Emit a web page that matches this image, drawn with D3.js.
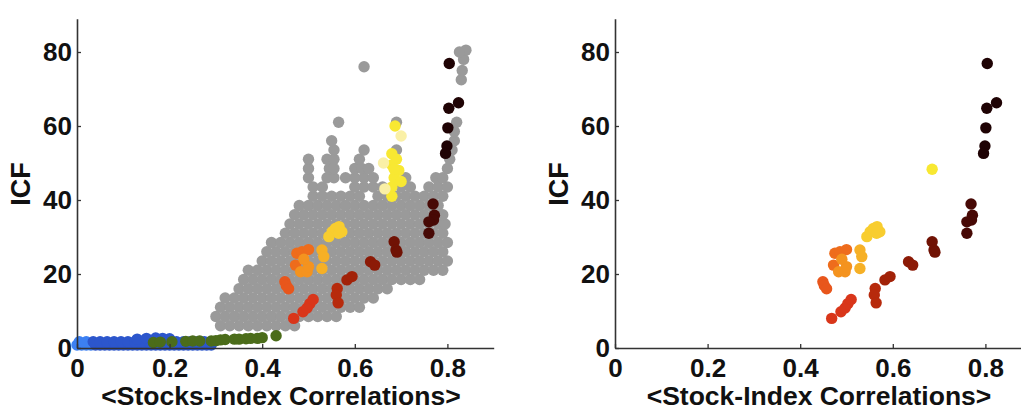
<!DOCTYPE html>
<html>
<head>
<meta charset="utf-8">
<script src="https://cdn.jsdelivr.net/npm/d3@7"></script>
<style>
  body { margin: 0; background: #fff; }
  text { font-family: "Liberation Sans", Arial, Helvetica, sans-serif; font-weight: bold; fill: #111; }
  .domain { stroke: #333; stroke-width: 1.6; }
  .tick line { stroke: #333; stroke-width: 1.3; }
</style>
</head>
<body>
<svg id="canvas" width="1021" height="412"></svg>
<script>
var grayRowY = [6, 8.5, 11, 13.5, 16, 18.5, 21, 23.5, 26, 28.5, 31, 33.5, 36, 38.5, 41, 43.5, 46, 48.5, 51, 53.5, 56, 58.5, 61];
var grayRowX = [
  [0.31,0.33,0.35,0.37,0.39,0.41,0.43,0.45,0.47],
  [0.30,0.32,0.34,0.36,0.38,0.40,0.42,0.44,0.46,0.48,0.50,0.52,0.54,0.56],
  [0.31,0.33,0.35,0.37,0.39,0.41,0.43,0.45,0.47,0.49,0.51,0.53,0.55,0.57,0.59,0.61],
  [0.32,0.34,0.36,0.38,0.40,0.42,0.44,0.46,0.48,0.50,0.52,0.54,0.56,0.58,0.60,0.62,0.64],
  [0.35,0.37,0.39,0.41,0.43,0.45,0.47,0.49,0.51,0.53,0.55,0.57,0.59,0.61,0.63,0.65,0.67],
  [0.36,0.38,0.40,0.42,0.44,0.46,0.48,0.50,0.52,0.54,0.56,0.58,0.60,0.62,0.64,0.66,0.68,0.70,0.72,0.74],
  [0.37,0.39,0.41,0.43,0.45,0.47,0.49,0.51,0.53,0.55,0.57,0.59,0.61,0.63,0.65,0.67,0.69,0.71,0.73,0.75,0.77,0.79],
  [0.40,0.42,0.44,0.46,0.48,0.50,0.52,0.54,0.56,0.58,0.60,0.62,0.64,0.66,0.68,0.70,0.72,0.74,0.76,0.78,0.80],
  [0.41,0.43,0.45,0.47,0.49,0.51,0.53,0.55,0.57,0.59,0.61,0.63,0.65,0.67,0.69,0.71,0.73,0.75,0.77,0.79],
  [0.42,0.44,0.46,0.48,0.50,0.52,0.54,0.56,0.58,0.60,0.62,0.64,0.66,0.68,0.70,0.72,0.74,0.76,0.78,0.80],
  [0.45,0.47,0.49,0.51,0.53,0.55,0.57,0.59,0.61,0.63,0.65,0.67,0.69,0.71,0.73,0.75,0.77,0.79],
  [0.46,0.48,0.50,0.52,0.54,0.56,0.58,0.60,0.62,0.64,0.66,0.68,0.70,0.72,0.74,0.76,0.78,0.795],
  [0.47,0.49,0.51,0.53,0.55,0.57,0.59,0.61,0.63,0.65,0.67,0.69,0.71,0.73,0.75,0.77,0.79],
  [0.48,0.50,0.52,0.54,0.56,0.58,0.60,0.62,0.64,0.66,0.68,0.70,0.72,0.74,0.76,0.78],
  [0.51,0.53,0.55,0.57,0.59,0.61,0.65,0.67,0.69,0.71,0.73,0.75,0.77,0.79],
  [0.51,0.53,0.60,0.62,0.64,0.66,0.70,0.72,0.76,0.78,0.80],
  [0.50,0.54,0.555,0.58,0.60,0.62,0.64,0.71,0.775,0.79],
  [0.50,0.545,0.555,0.60,0.615,0.63,0.80],
  [0.50,0.54,0.555,0.61,0.805],
  [0.555,0.62,0.69,0.81],
  [0.55,0.815],
  [0.815],
  [0.565,0.69,0.82]
];
var grayExtra = [[0.62,76],[0.83,72.5],[0.832,75],[0.835,78],[0.84,80.5],[0.826,80]];

// blue band and green run near zero ICF
var blueX = [0.00,0.01,0.02,0.03,0.04,0.05,0.06,0.07,0.08,0.09,0.10,0.11,0.12,0.13,0.14,0.15,0.16,0.17,0.18,0.19,0.20,0.21,0.22,0.23,0.24,0.25,0.26,0.27,0.28,0.29,
             0.005,0.02,0.035,0.05,0.065,0.08,0.095,0.11,0.125,0.14,0.155,0.17,0.185,0.20,0.215,0.23,0.245,0.26,0.275,
             0.13,0.15,0.17,0.185,0.20];
var blueY = [0.8,0.8,0.8,0.8,0.8,0.8,0.8,0.8,0.8,0.8,0.8,0.8,0.8,0.8,0.8,0.8,0.8,0.8,0.8,0.8,0.8,0.8,0.8,0.8,0.8,0.8,0.8,0.8,0.8,0.8,
             1.7,1.7,1.7,1.7,1.7,1.7,1.7,1.7,1.7,1.7,1.8,1.8,1.8,1.8,1.7,1.7,1.7,1.7,1.7,
             2.4,2.6,2.7,2.6,2.5];
var greenX = [0.165,0.18,0.205,0.235,0.25,0.265,0.29,0.30,0.31,0.32,0.34,0.35,0.365,0.375,0.39,0.40,0.43];
var greenY = [1.5,1.6,1.7,1.8,1.9,1.9,1.9,2.0,2.2,2.3,2.4,2.4,2.5,2.6,2.6,2.8,3.3];

// coloured points, shared by both panels, with their period group
var colX = [0.468,0.488,0.497,0.503,0.510, 0.449,0.452,0.457, 0.475,0.486,0.500,0.472, 0.483,0.497,0.500,0.490,
            0.529,0.533,0.529, 0.544,0.551,0.558,0.565,0.572,0.566, 0.685, 0.562,0.560,0.564, 0.583,0.594,
            0.634,0.643, 0.685,0.689,0.691, 0.769,0.772,0.770,0.760,0.760, 0.804,0.824,0.803,0.801,0.799,0.796];
var colY = [8.0,9.8,10.8,12.0,13.1, 17.9,16.9,16.0, 25.6,26.0,26.6,22.4, 20.6,20.6,22.0,24.0,
            26.5,24.7,21.5, 30.1,31.4,32.3,31.0,31.4,32.8, 48.3, 16.1,14.3,12.2, 18.4,19.3,
            23.3,22.4, 28.7,26.5,25.9, 38.9,35.9,34.6,34.1,31.0, 76.9,66.3,64.8,59.5,54.6,52.6];
var colG = [0,0,0,0,0, 1,1,1, 2,2,2,2, 3,3,3,3, 4,4,4, 5,5,5,5,5,5, 6, 7,7,7, 8,8, 9,9, 10,10,10, 11,11,11,11,11, 12,12,12,12,12,12];

// extra yellow points seen only in the left panel (g 6 bright, 13 pale)
var yelX = [0.687,0.70,0.68,0.69,0.68,0.695,0.685,0.70,0.68,0.68,0.665,0.662];
var yelY = [60.0,57.3,52.5,51.0,49.5,48.0,46.0,45.0,43.5,41.0,43.0,50.0];
var yelG = [6,13,6,6,6,6,6,6,6,6,13,13];

var groupColors = ["#d9361a","#e8561c","#ee6c1c","#f4931f","#f6b026","#f8cd2f","#f8e832",
                   "#b72a0c","#a22208","#8c1a06","#701204","#470905","#1f0304","#faf0a6"];

var xTicks = [0, 0.2, 0.4, 0.6, 0.8];
var yTicks = [0, 20, 40, 60, 80];

var svg = d3.select("#canvas");
var color = d3.scaleOrdinal().domain(d3.range(groupColors.length)).range(groupColors);
var R = 5.7;

var grayPts = [];
grayRowY.forEach(function(y, i) {
  grayRowX[i].forEach(function(x) { grayPts.push([x, y]); });
});
grayExtra.forEach(function(p) { grayPts.push(p); });

var bluePts = blueX.map(function(x, i) { return [x, blueY[i]]; });
var greenPts = greenX.map(function(x, i) { return [x, greenY[i]]; });
var colPts = colX.map(function(x, i) { return [x, colY[i], colG[i]]; });
var yelPts = yelX.map(function(x, i) { return [x, yelY[i], yelG[i]]; });

var panels = [
  { x0: 77, title: "<Stocks-Index Correlations>", full: true },
  { x0: 615, title: "<Stock-Index Correlations>", full: false }
];

var y = d3.scaleLinear().domain([0, 89]).range([348, 348 - 89 * 3.7]);

panels.forEach(function(p) {
  var x = d3.scaleLinear().domain([0, 0.9]).range([p.x0, p.x0 + 0.9 * 463]);
  var g = svg.append("g");

  function dots(data, fill) {
    g.append("g").selectAll("circle")
      .data(data)
      .enter().append("circle")
      .attr("cx", function(d) { return x(d[0]); })
      .attr("cy", function(d) { return y(d[1]); })
      .attr("r", R)
      .attr("fill", fill);
  }

  if (p.full) {
    dots(grayPts, "#9a9a9a");
    dots(bluePts, function(d) { return d[0] < 0.035 ? "#3c80f2" : "#2c56cc"; });
    dots(greenPts, "#4b6c1a");
    dots(yelPts, function(d) { return color(d[2]); });
  }
  dots(colPts, function(d) { return color(d[2]); });

  g.append("g")
    .attr("transform", "translate(0,348)")
    .call(d3.axisBottom(x).tickValues(xTicks).tickSizeInner(-4).tickSizeOuter(0).tickPadding(11)
      .tickFormat(function(d) { return String(d); }))
    .call(function(a) { a.selectAll("text").style("font-size", "26px"); });

  g.append("g")
    .attr("transform", "translate(" + p.x0 + ",0)")
    .call(d3.axisLeft(y).tickValues(yTicks).tickSizeInner(-4).tickSizeOuter(0).tickPadding(5))
    .call(function(a) { a.selectAll("text").style("font-size", "26px"); });

  g.append("text")
    .attr("x", p.x0 + 204)
    .attr("y", 405)
    .attr("text-anchor", "middle")
    .style("font-size", "26.5px")
    .text(p.title);

  g.append("text")
    .attr("transform", "translate(" + (p.x0 - 47) + ",184) rotate(-90)")
    .attr("text-anchor", "middle")
    .style("font-size", "27px")
    .text("ICF");
});
</script>
</body>
</html>
